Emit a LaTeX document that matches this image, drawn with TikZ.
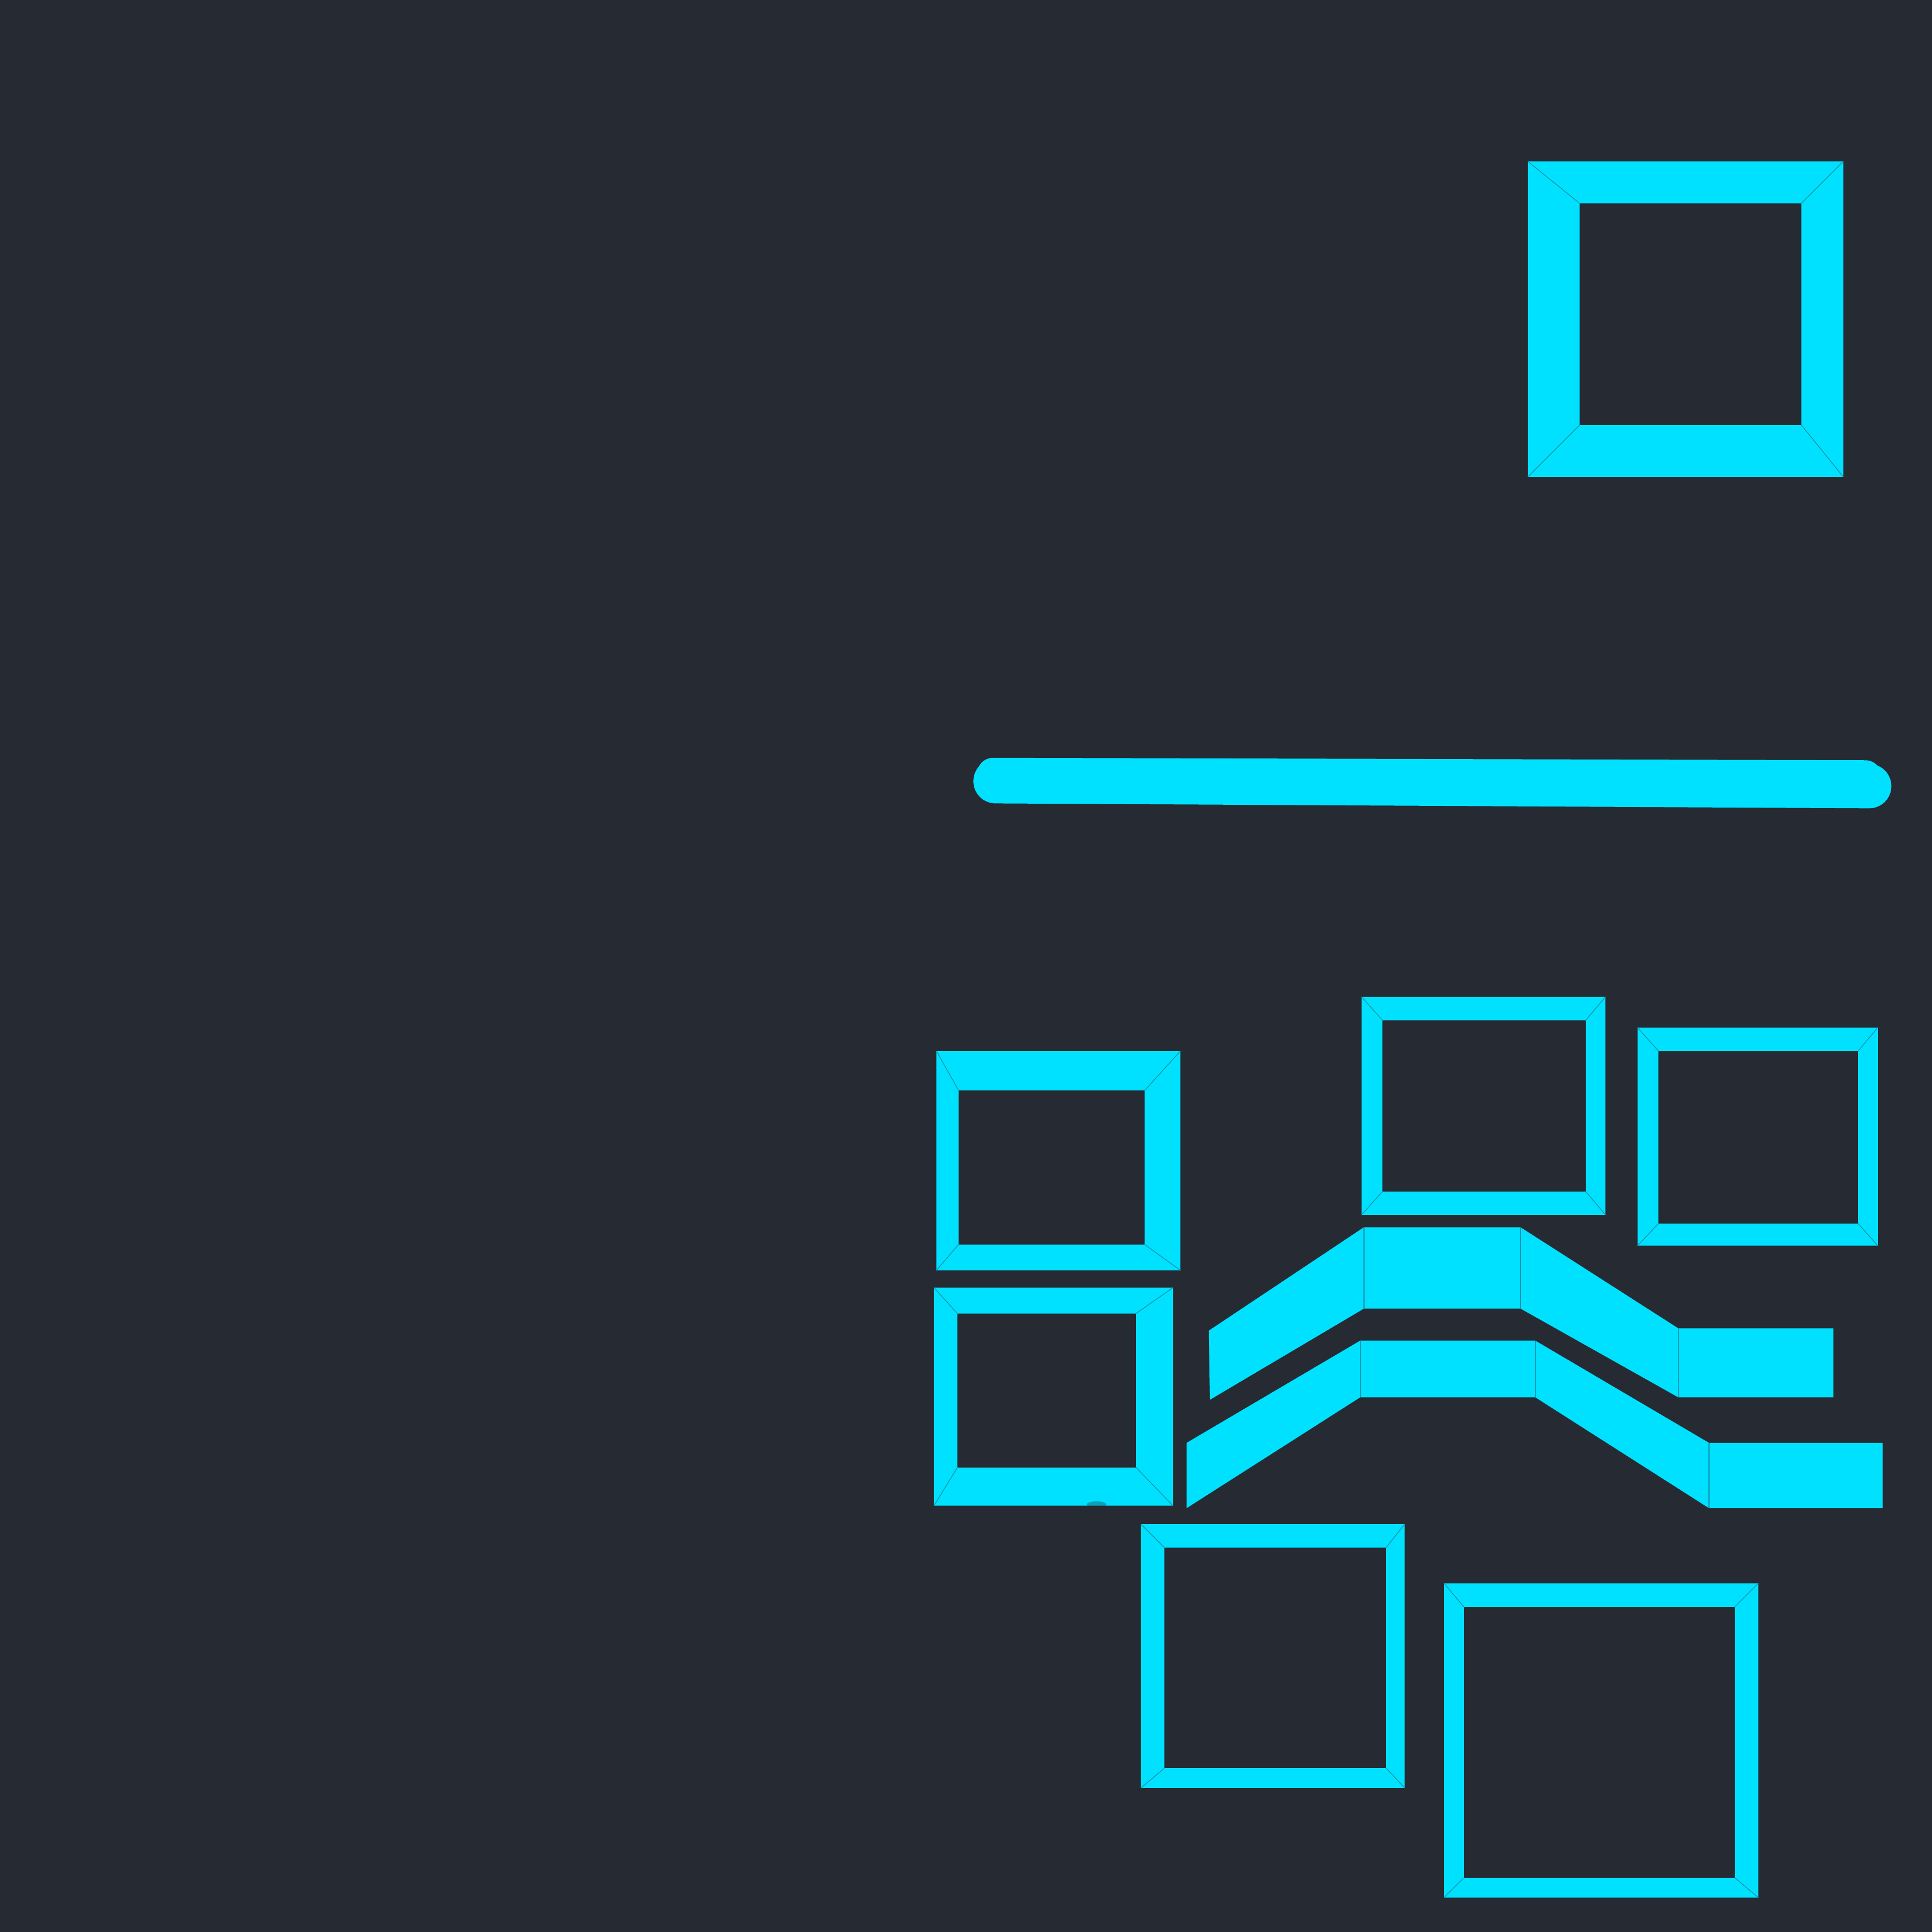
\documentclass[tikz,border=0pt]{standalone}
\definecolor{bgc}{HTML}{262A33}
\definecolor{cy}{HTML}{00E1FF}
\definecolor{seam}{HTML}{138CA3}
\newcommand\cframe[8]{%
  \fill[cy,even odd rule] (#1,#2) rectangle (#3,#4) (#5,#6) rectangle (#7,#8);
  \draw[seam,line width=0.15pt] (#1,#2)--(#5,#6) (#3,#2)--(#7,#6) (#3,#4)--(#7,#8) (#1,#4)--(#5,#8);
}
\begin{document}
\begin{tikzpicture}[x=0.01cm,y=-0.01cm]
\fill[bgc] (0,0) rectangle (1568,1568);
\useasboundingbox (0,0) rectangle (1568,1568);
% top-right frame
\cframe{1240}{131}{1496}{387}{1282}{165}{1462}{345}
% long bar
\draw[cy,line width=0.36cm,line cap=round] (808,634) -- (1517,638);
\draw[cy,line width=0.26cm,line cap=round] (806,628) -- (1514,630);
% frames
\cframe{760}{853}{958}{1031}{778}{885}{929}{1010}
\cframe{1105}{809}{1303}{986}{1122}{828}{1287}{967}
\cframe{1329}{834}{1524}{1011}{1346}{853}{1508}{993}
\cframe{758}{1045}{952}{1222}{777}{1066}{922}{1191}
\cframe{926}{1237}{1140}{1451}{945}{1256}{1125}{1435}
\cframe{1172}{1285}{1427}{1540}{1188}{1304}{1408}{1524}
\fill[bgc,opacity=0.35] (890,1221) ellipse (8 and 2.5);
% upper band
\fill[cy] (981,1080) -- (1107,996) -- (1234,996) -- (1362,1078) -- (1488,1078) -- (1488,1134) -- (1362,1134) -- (1234,1062) -- (1107,1062) -- (982,1136) -- cycle;
\draw[seam,line width=0.15pt] (1107,996)--(1107,1062) (1234,996)--(1234,1062) (1362,1078)--(1362,1134);
% lower band
\fill[cy] (963,1171) -- (1104,1088) -- (1246,1088) -- (1387,1171) -- (1528,1171) -- (1528,1224) -- (1387,1224) -- (1246,1134) -- (1104,1134) -- (963,1224) -- cycle;
\draw[seam,line width=0.15pt] (1104,1088)--(1104,1134) (1246,1088)--(1246,1134) (1387,1171)--(1387,1224);
\end{tikzpicture}
\end{document}
